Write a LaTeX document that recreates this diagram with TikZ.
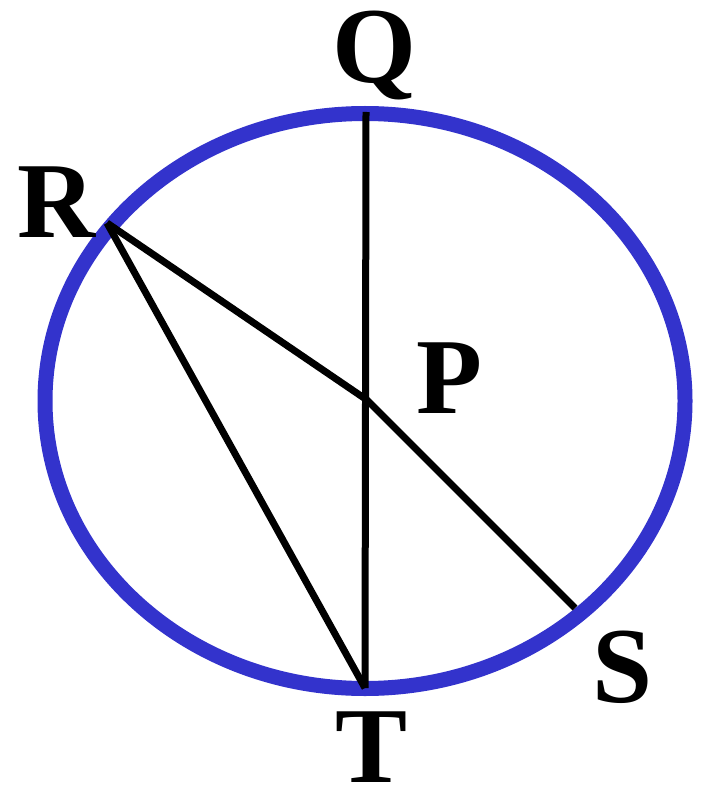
\documentclass[tikz,border=0pt]{standalone}
\usepackage{fontspec}
\setmainfont{Liberation Serif}[BoldFont={Liberation Serif Bold}]
\usepackage{xcolor}
\definecolor{RimBlue}{HTML}{3333CC}

\begin{document}
\begin{tikzpicture}[x=1pt,y=-1pt,
    letter/.style={inner sep=0pt, anchor=base, font=\fontsize{108}{108}\selectfont\bfseries},
    chord/.style={line width=7pt, line join=miter}
  ]
    \useasboundingbox (0,0) rectangle (704,786);
    % the circle
    \draw[RimBlue, line width=15pt] (365,401) ellipse [x radius=320, y radius=287.5];
    % points on the rim and centre
    \coordinate (Q) at (366,112);
    \coordinate (T) at (365,688);
    \coordinate (R) at (107,223);
    \coordinate (S) at (575,608);
    \coordinate (P) at (367,400);
    % chords
    \draw[chord] (Q) -- (T);
    \draw[chord] (R) -- (P) -- (S);
    \draw[chord] (R) -- (T);
    % labels
    \node[letter] (labQ) at (374,83) {Q};
    \node[letter] (labR) at (56,237) {R};
    \node[letter] (labP) at (449,413) {P};
    \node[letter] (labS) at (623,702) {S};
    \node[letter] (labT) at (372,782) {T};
\end{tikzpicture}
\end{document}
